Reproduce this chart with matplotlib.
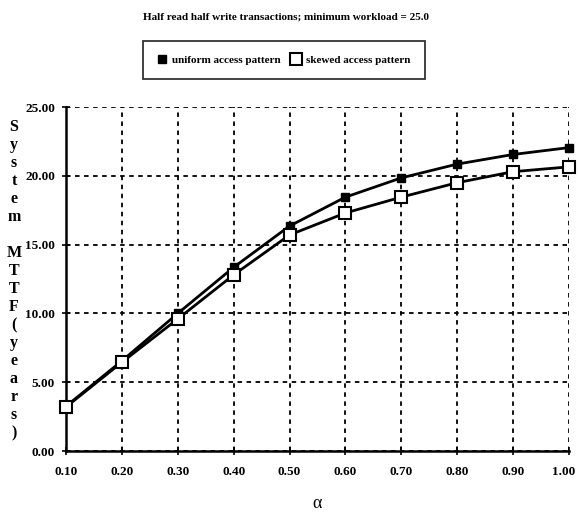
import matplotlib
matplotlib.use("Agg")
import matplotlib.pyplot as plt
import matplotlib.transforms as mtransforms

# values
alpha = [0.10, 0.20, 0.30, 0.40, 0.50, 0.60, 0.70, 0.80, 0.90, 1.00]
uniform = [3.25, 6.55, 10.0, 13.35, 16.35, 18.45, 19.85, 20.85, 21.55, 22.05]
skewed = [3.2, 6.45, 9.6, 12.8, 15.7, 17.3, 18.45, 19.5, 20.3, 20.65]
xticks = [0.10, 0.20, 0.30, 0.40, 0.50, 0.60, 0.70, 0.80, 0.90, 1.00]
yticks = [0.0, 5.0, 10.0, 15.0, 20.0, 25.0]

plt.rcParams['font.family'] = ['Liberation Serif', 'DejaVu Serif']
plt.rcParams['font.weight'] = 'bold'

fig = plt.figure(figsize=(5.78, 5.12), dpi=100)
ax = fig.add_axes([66 / 578, 1 - 451 / 512, 503 / 578, 344 / 512])

ax.plot(alpha, uniform, color='black', lw=2, marker='s', ms=6,
        mfc='black', mec='black', label='uniform access pattern',
        zorder=3, clip_on=False)
ax.plot(alpha, skewed, color='black', lw=2, marker='s', ms=8,
        mfc='white', mec='black', mew=1.5, label='skewed access pattern',
        zorder=4, clip_on=False)

ax.set_xlim(0.10, 1.00)
ax.set_ylim(0, 25)
ax.set_xticks(xticks)
ax.set_xticklabels(['%.2f' % v for v in xticks], fontsize=9.5, fontweight='bold')
ax.set_yticks(yticks)
ax.set_yticklabels(['%.2f' % v for v in yticks], fontsize=9.5, fontweight='bold')
ax.tick_params(direction='inout', length=6, width=1.2)
ax.tick_params(axis='x', pad=8)
ax.tick_params(axis='y', pad=5)

# keep the last x label inside the picture
last = ax.get_xticklabels()[-1]
last.set_transform(last.get_transform() +
                   mtransforms.ScaledTranslation(-5 / 100, 0, fig.dpi_scale_trans))

ax.grid(True, color='black', linestyle=(0, (2.5, 2.5)), linewidth=1.3)
for s in ['top', 'right']:
    ax.spines[s].set_visible(False)
for s in ['left', 'bottom']:
    ax.spines[s].set_linewidth(1.8)

ax.set_xlabel('α', fontsize=13, labelpad=12)

fig.text(14 / 578, 1 - 280 / 512, '\n'.join('System MTTF(years)'),
         ha='center', va='center', fontsize=11.5, fontweight='bold',
         linespacing=1.17)

fig.suptitle('Half read half write transactions; minimum workload = 25.0',
             x=286 / 578, y=1 - 17 / 512, va='center', fontsize=8,
             fontweight='bold')

fig.legend(loc='center', bbox_to_anchor=(284 / 578, 1 - 60 / 512), ncol=2,
           fontsize=8, frameon=True, fancybox=False, edgecolor='black',
           handlelength=0.8, handletextpad=0.5, columnspacing=1.0,
           borderpad=1.3)
leg = fig.legends[0]
leg.get_frame().set_linewidth(1.3)
for line in leg.get_lines():
    line.set_linestyle('none')

fig.savefig('out.png', dpi=100)
